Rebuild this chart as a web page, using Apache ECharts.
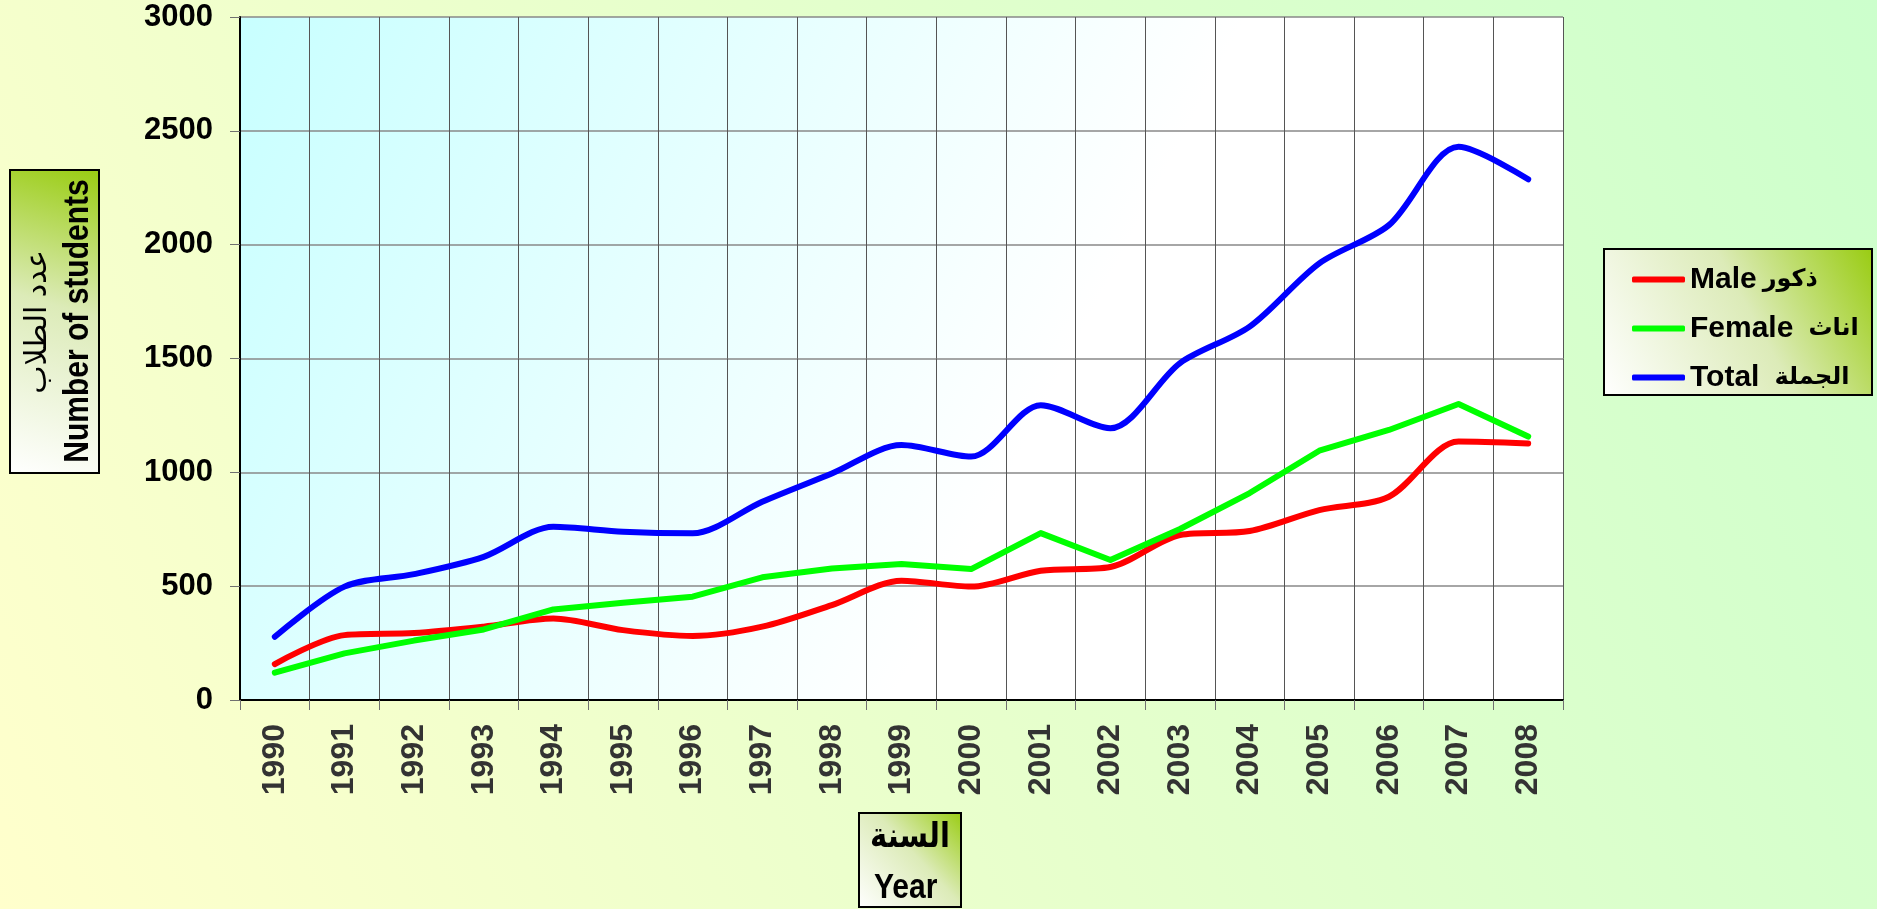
<!DOCTYPE html>
<html>
<head>
<meta charset="utf-8">
<script src="https://cdn.jsdelivr.net/npm/echarts@6/dist/echarts.min.js"></script>
<style>
  html, body { margin: 0; padding: 0; }
  #chart { width: 1877px; height: 909px; }
</style>
</head>
<body>
<div id="chart"></div>
<script>
// years on the x axis
var years = ['1990', '1991', '1992', '1993', '1994', '1995', '1996', '1997', '1998', '1999',
  '2000', '2001', '2002', '2003', '2004', '2005', '2006', '2007', '2008'];
// number of students
var male = [158, 285, 294, 322, 358, 307, 281, 322, 417, 524, 498, 568, 584, 725, 742, 834, 893, 1135, 1127];
var female = [120, 205, 261, 310, 398, 427, 454, 539, 578, 597, 575, 733, 615, 751, 909, 1095, 1186, 1300, 1157];
var total = [278, 498, 553, 629, 761, 739, 732, 871, 995, 1120, 1069, 1295, 1194, 1480, 1640, 1918, 2086, 2430, 2287];
var seriesNames = ['Male', 'Female', 'Total'];
var arabicNames = ['ذكور', 'اناث', 'الجملة'];

var chart = echarts.init(document.getElementById('chart'));

// box gradient: white bottom-left -> yellow green top-right
function boxFill() {
  return {
    type: 'linear', x: 0, y: 1, x2: 1, y2: 0,
    colorStops: [
      { offset: 0, color: '#ffffff' },
      { offset: 0.55, color: '#dcebb8' },
      { offset: 1, color: '#99cc11' }
    ]
  };
}

var font = '"Liberation Sans", Arial, "DejaVu Sans", sans-serif';

function arStyle(padLeft) {
  return { fontSize: 24, fontWeight: 'bold', color: '#000', fontFamily: font, lineHeight: 31, padding: [0, 0, 0, padLeft] };
}

var option = {
  animation: false,
  backgroundColor: {
    type: 'linear', x: 0, y: 1, x2: 1, y2: 0,
    colorStops: [
      { offset: 0, color: '#ffffcc' },
      { offset: 1, color: '#ccffcc' }
    ]
  },
  textStyle: { fontFamily: font },
  grid: {
    left: 240,
    top: 17,
    right: 314,
    bottom: 209,
    show: true,
    borderWidth: 0,
    backgroundColor: {
      type: 'linear', x: 0, y: 0, x2: 1, y2: 1,
      colorStops: [
        { offset: 0, color: '#c8ffff' },
        { offset: 0.6, color: '#ffffff' },
        { offset: 1, color: '#ffffff' }
      ]
    }
  },
  legend: {
    orient: 'vertical',
    left: 1627,
    top: 259,
    itemWidth: 53,
    itemHeight: 6,
    itemGap: 18,
    icon: 'roundRect',
    formatter: function (name) {
      var i = seriesNames.indexOf(name);
      return '{en|' + name + '}{ar' + i + '|' + arabicNames[i] + '}';
    },
    textStyle: {
      fontSize: 30, fontWeight: 'bold', color: '#000', lineHeight: 31, fontFamily: font,
      rich: {
        en: { fontSize: 30, fontWeight: 'bold', color: '#000', fontFamily: font, lineHeight: 31 },
        ar0: arStyle(6),
        ar1: arStyle(15),
        ar2: arStyle(15)
      }
    },
    data: seriesNames
  },
  xAxis: {
    type: 'category',
    data: years,
    boundaryGap: true,
    axisLine: { lineStyle: { color: '#000', width: 2 } },
    axisTick: { show: true, length: 10, lineStyle: { color: '#707070' } },
    axisLabel: { rotate: 90, margin: 24, fontSize: 32, fontWeight: 'bold', color: '#333' },
    splitLine: { show: true, lineStyle: { color: '#555', width: 1 } }
  },
  yAxis: {
    type: 'value',
    min: 0,
    max: 3000,
    interval: 500,
    axisLine: { show: true, lineStyle: { color: '#000', width: 2 } },
    axisTick: { show: true, length: 10, lineStyle: { color: '#707070' } },
    axisLabel: {
      margin: 27, fontSize: 31, fontWeight: 'bold', color: '#000',
      formatter: function (v) { return String(v); }
    },
    splitLine: { show: true, lineStyle: { color: '#888', width: 1.5 } }
  },
  series: [
    {
      name: seriesNames[0], type: 'line', data: male, smooth: 0.3,
      symbol: 'none', color: '#ff0000',
      lineStyle: { width: 6, color: '#ff0000', cap: 'round', join: 'round' }
    },
    {
      name: seriesNames[1], type: 'line', data: female, smooth: false,
      symbol: 'none', color: '#00ff00',
      lineStyle: { width: 6, color: '#00ff00', cap: 'round', join: 'round' }
    },
    {
      name: seriesNames[2], type: 'line', data: total, smooth: 0.3,
      symbol: 'none', color: '#0000ff',
      lineStyle: { width: 6, color: '#0000ff', cap: 'round', join: 'round' }
    }
  ],
  graphic: [
    // legend box (drawn under the legend)
    {
      type: 'rect', z: -1,
      shape: { x: 1604, y: 249, width: 268, height: 146 },
      style: { fill: boxFill(), stroke: '#000', lineWidth: 2 }
    },
    // y axis title box
    {
      type: 'rect', z: 1,
      shape: { x: 10, y: 170, width: 89, height: 303 },
      style: { fill: boxFill(), stroke: '#000', lineWidth: 2 }
    },
    {
      type: 'text', z: 2, x: 38, y: 322, rotation: Math.PI / 2,
      style: { text: 'عدد الطلاب', fontSize: 30, fontFamily: font, fill: '#000',
        textAlign: 'center', textVerticalAlign: 'middle' }
    },
    {
      type: 'text', z: 2, x: 78, y: 321, rotation: Math.PI / 2, scaleY: 1.15,
      style: { text: 'Number of students', fontSize: 30, fontWeight: 'bold', fontFamily: font, fill: '#000',
        textAlign: 'center', textVerticalAlign: 'middle' }
    },
    // x axis title box
    {
      type: 'rect', z: 1,
      shape: { x: 859, y: 813, width: 102, height: 94 },
      style: { fill: boxFill(), stroke: '#000', lineWidth: 2 }
    },
    {
      type: 'text', z: 2, x: 910, y: 837, scaleY: 1.2,
      style: { text: 'السنة', fontSize: 29, fontWeight: 'bold', fontFamily: font, fill: '#000',
        textAlign: 'center', textVerticalAlign: 'middle' }
    },
    {
      type: 'text', z: 2, x: 874, y: 888, scaleY: 1.15,
      style: { text: 'Year', fontSize: 30, fontWeight: 'bold', fontFamily: font, fill: '#000',
        textAlign: 'left', textVerticalAlign: 'middle' }
    }
  ]
};

chart.setOption(option);
</script>
</body>
</html>
